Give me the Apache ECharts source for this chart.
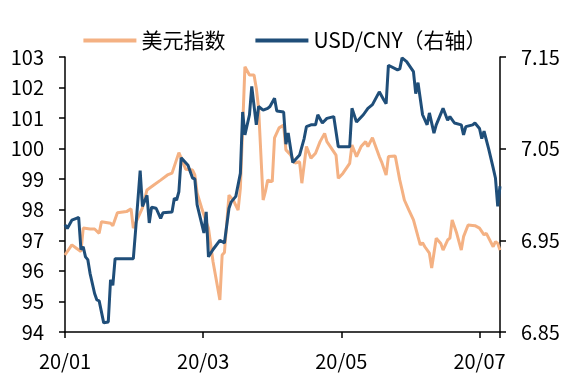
<!DOCTYPE html>
<html><head><meta charset="utf-8">
<script src="https://cdn.jsdelivr.net/npm/echarts@6/dist/echarts.min.js"></script>
<style>html,body{margin:0;padding:0;background:#fff}#c{width:570px;height:380px}</style>
</head><body><div id="c"></div>
<script>
const seriesNames = ['美元指数', 'USD/CNY（右轴）'];
const xTickLabels = ['20/01', '20/03', '20/05', '20/07'];
const leftTicks = [94, 95, 96, 97, 98, 99, 100, 101, 102, 103];
const rightTicks = [6.85, 6.95, 7.05, 7.15];

const dxyDates = ['2020-01-01','2020-01-04','2020-01-06','2020-01-08','2020-01-09','2020-01-12','2020-01-14','2020-01-16','2020-01-17','2020-01-21','2020-01-22','2020-01-24','2020-01-28','2020-01-30','2020-01-31','2020-02-04','2020-02-06','2020-02-09','2020-02-12','2020-02-15','2020-02-17','2020-02-20','2020-02-23','2020-02-26','2020-02-27','2020-02-28','2020-03-01','2020-03-03','2020-03-04','2020-03-06','2020-03-09','2020-03-10','2020-03-11','2020-03-13','2020-03-15','2020-03-17','2020-03-18','2020-03-20','2020-03-22','2020-03-24','2020-03-25','2020-03-26','2020-03-28','2020-03-29','2020-03-30','2020-04-01','2020-04-02','2020-04-04','2020-04-06','2020-04-07','2020-04-09','2020-04-11','2020-04-13','2020-04-14','2020-04-16','2020-04-18','2020-04-20','2020-04-22','2020-04-24','2020-04-25','2020-04-27','2020-04-29','2020-04-30','2020-05-02','2020-05-05','2020-05-06','2020-05-08','2020-05-10','2020-05-12','2020-05-13','2020-05-15','2020-05-18','2020-05-19','2020-05-21','2020-05-22','2020-05-25','2020-05-27','2020-05-28','2020-05-29','2020-05-31','2020-06-02','2020-06-04','2020-06-05','2020-06-06','2020-06-07','2020-06-09','2020-06-10','2020-06-11','2020-06-12','2020-06-14','2020-06-15','2020-06-17','2020-06-18','2020-06-19','2020-06-21','2020-06-23','2020-06-24','2020-06-26','2020-06-29','2020-07-01','2020-07-03','2020-07-04','2020-07-07','2020-07-08','2020-07-09','2020-07-10'];
const dxyValues = [96.52,96.85,96.74,96.63,97.40,97.37,97.37,97.23,97.61,97.56,97.48,97.90,97.94,98.03,97.40,98.06,98.65,98.81,98.97,99.14,99.20,99.87,99.33,99.30,99.14,98.55,98.06,97.60,97.40,96.30,95.05,96.52,96.60,98.48,98.30,97.99,98.70,102.68,102.41,102.41,101.98,101.33,98.32,98.60,98.97,98.92,100.35,100.68,100.77,99.96,99.80,99.53,99.57,98.87,100.07,99.69,99.85,100.23,100.50,100.23,100.01,99.79,99.03,99.19,99.52,100.12,99.74,100.07,100.23,100.07,100.36,99.74,99.57,99.14,99.74,99.76,98.97,98.65,98.32,97.99,97.67,97.12,96.85,96.92,96.79,96.58,96.09,96.58,97.07,96.90,96.68,97.01,97.07,97.67,97.23,96.68,97.12,97.50,97.48,97.40,97.18,97.23,96.79,96.96,96.90,96.68];

const cnyDates = ['2020-01-01','2020-01-02','2020-01-04','2020-01-06','2020-01-07','2020-01-08','2020-01-09','2020-01-10','2020-01-11','2020-01-12','2020-01-14','2020-01-15','2020-01-16','2020-01-18','2020-01-20','2020-01-21','2020-01-22','2020-01-23','2020-01-31','2020-02-01','2020-02-03','2020-02-04','2020-02-06','2020-02-07','2020-02-08','2020-02-10','2020-02-12','2020-02-13','2020-02-17','2020-02-18','2020-02-19','2020-02-20','2020-02-21','2020-02-24','2020-02-26','2020-02-27','2020-02-28','2020-03-02','2020-03-03','2020-03-04','2020-03-06','2020-03-09','2020-03-11','2020-03-13','2020-03-14','2020-03-16','2020-03-18','2020-03-19','2020-03-20','2020-03-22','2020-03-23','2020-03-25','2020-03-26','2020-03-28','2020-03-30','2020-03-31','2020-04-02','2020-04-03','2020-04-06','2020-04-07','2020-04-08','2020-04-10','2020-04-13','2020-04-15','2020-04-16','2020-04-18','2020-04-20','2020-04-21','2020-04-23','2020-04-25','2020-04-28','2020-04-30','2020-05-03','2020-05-05','2020-05-06','2020-05-08','2020-05-11','2020-05-13','2020-05-15','2020-05-18','2020-05-20','2020-05-21','2020-05-22','2020-05-26','2020-05-27','2020-05-28','2020-05-30','2020-06-02','2020-06-03','2020-06-04','2020-06-06','2020-06-08','2020-06-09','2020-06-11','2020-06-12','2020-06-15','2020-06-17','2020-06-18','2020-06-20','2020-06-23','2020-06-24','2020-06-25','2020-06-28','2020-06-29','2020-07-01','2020-07-02','2020-07-03','2020-07-05','2020-07-07','2020-07-08','2020-07-09','2020-07-10'];
const cnyValues = [6.967,6.963,6.972,6.974,6.975,6.940,6.943,6.932,6.929,6.914,6.892,6.885,6.884,6.860,6.861,6.907,6.901,6.930,6.930,6.961,7.026,6.987,6.999,6.969,6.986,6.985,6.974,6.980,6.981,6.996,6.994,7.003,7.040,7.032,7.018,7.017,6.989,6.958,6.981,6.932,6.940,6.950,6.947,6.985,6.992,6.998,7.023,7.090,7.065,7.087,7.118,7.076,7.096,7.092,7.094,7.096,7.105,7.091,7.090,7.055,7.067,7.035,7.043,7.061,7.074,7.076,7.076,7.087,7.078,7.083,7.085,7.052,7.052,7.052,7.094,7.079,7.087,7.094,7.098,7.112,7.103,7.099,7.141,7.136,7.137,7.149,7.145,7.134,7.110,7.122,7.087,7.076,7.089,7.067,7.076,7.094,7.081,7.085,7.078,7.076,7.065,7.074,7.076,7.078,7.072,7.061,7.069,7.050,7.029,7.018,6.987,7.009];

const startDate = '2020-01-01';
const endDate = '2020-07-10';
const xTickDates = ['2020-01-01', '2020-03-01', '2020-05-01', '2020-07-01'];

function dayIdx(s) {
  const p = s.split('-').map(Number);
  const q = startDate.split('-').map(Number);
  return Math.round((Date.UTC(p[0], p[1]-1, p[2]) - Date.UTC(q[0], q[1]-1, q[2])) / 86400000);
}
const xMax = dayIdx(endDate);
const tickDays = xTickDates.map(dayIdx);
const xInterval = tickDays[tickDays.length-1] / (tickDays.length-1);
const rBase = rightTicks[0];

const chart = echarts.init(document.getElementById('c'), null, {renderer: 'canvas'});
const font = '"Noto Sans CJK SC", "Noto Sans", sans-serif';
const axisCommon = {
  axisLine: {show: true, lineStyle: {color: '#000', width: 1.5}},
  axisTick: {show: true, inside: false, length: 6, lineStyle: {color: '#000', width: 1.5}},
  splitLine: {show: false}
};
chart.setOption({
  animation: false,
  textStyle: {fontFamily: font},
  legend: {
    data: seriesNames,
    left: 'center', top: 25,
    itemWidth: 53, itemHeight: 4, itemGap: 30,
    icon: 'rect',
    textStyle: {fontSize: 21, color: '#000', fontFamily: font}
  },
  grid: {left: 65, right: 70, top: 57, bottom: 48},
  xAxis: Object.assign({
    type: 'value', min: 0, max: xMax, interval: xInterval,
    axisLabel: {
      margin: 19, fontSize: 20, color: '#000', fontFamily: font,
      formatter: function (v) {
        for (let i = 0; i < tickDays.length; i++) {
          if (Math.abs(v - i * xInterval) < 0.5) return xTickLabels[i];
        }
        return '';
      }
    }
  }, axisCommon),
  yAxis: [
    Object.assign({
      type: 'value', position: 'left', min: leftTicks[0], max: leftTicks[leftTicks.length-1], interval: 1,
      axisLabel: {margin: 21, fontSize: 20, color: '#000', fontFamily: font}
    }, axisCommon),
    Object.assign({
      type: 'value', position: 'right', min: 0, max: rightTicks[rightTicks.length-1] - rBase, interval: 0.1,
      axisLabel: {margin: 21, fontSize: 20, color: '#000', fontFamily: font,
        formatter: function (v) { return (rBase + v).toFixed(2); }}
    }, axisCommon)
  ],
  series: [
    {
      name: seriesNames[0], type: 'line', yAxisIndex: 0, showSymbol: false, symbol: 'none',
      lineStyle: {color: '#F4B183', width: 3}, itemStyle: {color: '#F4B183'},
      data: dxyDates.map((d, i) => [dayIdx(d), dxyValues[i]])
    },
    {
      name: seriesNames[1], type: 'line', yAxisIndex: 1, showSymbol: false, symbol: 'none',
      lineStyle: {color: '#1F4E79', width: 3}, itemStyle: {color: '#1F4E79'},
      data: cnyDates.map((d, i) => [dayIdx(d), cnyValues[i] - rBase])
    }
  ]
});
</script></body></html>
